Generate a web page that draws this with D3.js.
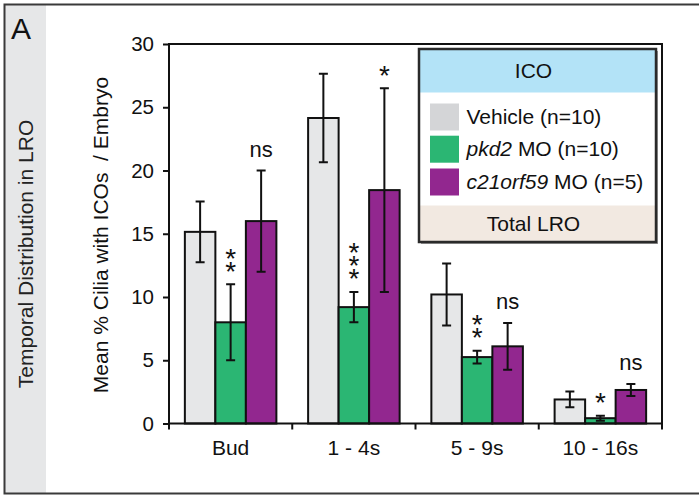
<!DOCTYPE html>
<html>
<head>
<meta charset="utf-8">
<script src="https://cdn.jsdelivr.net/npm/d3@7/dist/d3.min.js"></script>
<style>
  body { margin: 0; background: #fff; }
  text { font-family: "Liberation Sans", Arial, Helvetica, sans-serif; fill: #111; }
</style>
</head>
<body>
<div id="chart"></div>
<script>
// Data
var categories = ["Bud", "1 - 4s", "5 - 9s", "10 - 16s"];
var seriesKeys = ["vehicle", "pkd2", "c21orf59"];
var vehicleMeans = [15.15, 24.15, 10.2, 1.9];
var vehicleErrors = [2.4, 3.5, 2.45, 0.62];
var pkd2Means = [8.0, 9.2, 5.25, 0.42];
var pkd2Errors = [3.0, 1.2, 0.5, 0.2];
var c21Means = [16.0, 18.45, 6.1, 2.65];
var c21Errors = [4.0, 8.05, 1.85, 0.48];
var pkd2Sig = ["**", "***", "**", "*"];
var c21Sig = ["ns", "*", "ns", "ns"];
var yTicks = [0, 5, 10, 15, 20, 25, 30];
// legend labels: italic part + plain part
var legendItalic = ["", "pkd2", "c21orf59"];
var legendPlain = ["Vehicle (n=10)", " MO (n=10)", " MO (n=5)"];

var colors = { vehicle: "#e6e7e8", pkd2: "#2bb673", c21orf59: "#92278f" };
var swatchColors = ["#d4d5d7", "#2bb673", "#92278f"];

var svgWidth = 699;
var svgHeight = 495;

var margin = { top: 44, right: 37, bottom: 71.5, left: 169 };
var width = svgWidth - margin.left - margin.right;
var height = svgHeight - margin.top - margin.bottom;

var svg = d3.select("#chart")
  .append("svg")
  .attr("width", svgWidth)
  .attr("height", svgHeight);

// panel background / border
svg.append("rect")
  .attr("x", 5).attr("y", 4).attr("width", 41).attr("height", 489)
  .attr("fill", "#e6e7e8");
svg.append("path")
  .attr("d", "M699,4.5 H4.5 V493.5 H699")
  .attr("fill", "none").attr("stroke", "#3a3a3a").attr("stroke-width", 2);

svg.append("text")
  .attr("x", 11).attr("y", 38.5)
  .style("font-size", "30px")
  .text("A");

svg.append("text")
  .attr("transform", "translate(33, 254) rotate(-90)")
  .attr("text-anchor", "middle")
  .style("font-size", "21px")
  .style("fill", "#222")
  .text("Temporal Distribution in LRO");

var chartGroup = svg.append("g")
  .attr("transform", `translate(${margin.left}, ${margin.top})`);

// scales
var x0 = d3.scaleBand()
  .domain(categories)
  .range([0, width])
  .paddingInner(0)
  .paddingOuter(0);

var x1 = d3.scaleBand()
  .domain(seriesKeys)
  .range([0, x0.bandwidth()])
  .paddingInner(0)
  .paddingOuter(0.52);

var y = d3.scaleLinear()
  .domain([0, 30])
  .range([height, 0]);

// build rows from arrays
var means = { vehicle: vehicleMeans, pkd2: pkd2Means, c21orf59: c21Means };
var errors = { vehicle: vehicleErrors, pkd2: pkd2Errors, c21orf59: c21Errors };
var barData = [];
categories.forEach(function(cat, i) {
  seriesKeys.forEach(function(key) {
    barData.push({ cat: cat, key: key, value: means[key][i], err: errors[key][i] });
  });
});

// bars
chartGroup.selectAll(".bar")
  .data(barData)
  .enter()
  .append("rect")
  .attr("class", "bar")
  .attr("x", d => x0(d.cat) + x1(d.key))
  .attr("y", d => y(d.value))
  .attr("width", x1.bandwidth())
  .attr("height", d => height - y(d.value))
  .attr("fill", d => colors[d.key])
  .attr("stroke", "#111")
  .attr("stroke-width", 2);

// error bars
var capHalf = 4.5;
chartGroup.selectAll(".err")
  .data(barData)
  .enter()
  .append("path")
  .attr("class", "err")
  .attr("d", function(d) {
    var cx = x0(d.cat) + x1(d.key) + x1.bandwidth() / 2;
    var top = y(d.value + d.err);
    var bot = y(d.value - d.err);
    return `M${cx},${top}V${bot}M${cx - capHalf},${top}H${cx + capHalf}M${cx - capHalf},${bot}H${cx + capHalf}`;
  })
  .attr("fill", "none")
  .attr("stroke", "#111")
  .attr("stroke-width", 2);

// significance marks (stacked stars drawn as one text with tspans)
function addSig(key, marks) {
  categories.forEach(function(cat, i) {
    var cx = x0(cat) + x1(key) + x1.bandwidth() / 2;
    var top = y(means[key][i] + errors[key][i]);
    var m = marks[i];
    if (m === "ns") {
      chartGroup.append("text")
        .attr("x", cx)
        .attr("y", top - 13.5)
        .attr("text-anchor", "middle")
        .style("font-size", "22px")
        .text("ns");
    } else {
      var n = m.length;
      var t = chartGroup.append("text")
        .attr("text-anchor", "middle")
        .style("font-size", "28px");
      for (var k = 0; k < n; k++) {
        // top star first
        var cy = top - 19.5 - (n - 1 - k) * 13.3;
        t.append("tspan")
          .attr("x", cx)
          .attr("y", cy + 16)
          .text("*");
      }
    }
  });
}
addSig("pkd2", pkd2Sig);
addSig("c21orf59", c21Sig);

// frame
chartGroup.append("rect")
  .attr("x", 0).attr("y", 0)
  .attr("width", width).attr("height", height)
  .attr("fill", "none")
  .attr("stroke", "#111")
  .attr("stroke-width", 2);

// y axis
var leftAxis = d3.axisLeft(y)
  .tickValues(yTicks)
  .tickSize(6)
  .tickPadding(9);

var yAxisG = chartGroup.append("g").call(leftAxis);
yAxisG.select(".domain").remove();
yAxisG.selectAll("line").attr("stroke", "#111").attr("stroke-width", 2);
yAxisG.selectAll("text")
  .style("font-size", "20.5px")
  .style("font-family", "'Liberation Sans', Arial, sans-serif")
  .attr("fill", "#111");

// x axis: ticks at band edges, labels at centres
var edges = categories.map(c => x0(c)).concat([width]);
chartGroup.selectAll(".xtick")
  .data(edges)
  .enter()
  .append("line")
  .attr("x1", d => d).attr("x2", d => d)
  .attr("y1", height).attr("y2", height + 6)
  .attr("stroke", "#111")
  .attr("stroke-width", 2);

chartGroup.selectAll(".xlabel")
  .data(categories)
  .enter()
  .append("text")
  .attr("x", d => x0(d) + x0.bandwidth() / 2)
  .attr("y", height + 31.5)
  .attr("text-anchor", "middle")
  .style("font-size", "21px")
  .text(d => d);

// y axis label
svg.append("text")
  .attr("transform", "translate(108, 235) rotate(-90)")
  .attr("text-anchor", "middle")
  .style("font-size", "21px")
  .style("white-space", "pre")
  .text("Mean % Cilia with ICOs  / Embryo");

// legend
var legend = svg.append("g");
var lx = 419, ly = 49, lw = 237, lh = 193;

legend.append("rect")
  .attr("x", lx + 2).attr("y", ly + 2)
  .attr("width", lw).attr("height", lh)
  .attr("fill", "#9a9a9a");
legend.append("rect")
  .attr("x", lx).attr("y", ly)
  .attr("width", lw).attr("height", lh)
  .attr("fill", "#fff");
legend.append("rect")
  .attr("x", lx).attr("y", ly)
  .attr("width", lw).attr("height", 43.5)
  .attr("fill", "#b3e3f7");
legend.append("rect")
  .attr("x", lx).attr("y", 205.5)
  .attr("width", lw).attr("height", ly + lh - 205.5)
  .attr("fill", "#f2e9e1");
legend.append("rect")
  .attr("x", lx).attr("y", ly)
  .attr("width", lw).attr("height", lh)
  .attr("fill", "none")
  .attr("stroke", "#2a2a2a")
  .attr("stroke-width", 2.5);

legend.append("text")
  .attr("x", 533.5).attr("y", 78.3)
  .attr("text-anchor", "middle")
  .style("font-size", "21px")
  .text("ICO");

legend.append("text")
  .attr("x", 533.5).attr("y", 230.7)
  .attr("text-anchor", "middle")
  .style("font-size", "21px")
  .text("Total LRO");

var rowY = [117, 149.2, 182];
seriesKeys.forEach(function(key, i) {
  legend.append("rect")
    .attr("x", 430).attr("y", rowY[i] - 13.5)
    .attr("width", 29).attr("height", 27)
    .attr("fill", swatchColors[i]);
  var t = legend.append("text")
    .attr("x", 466.5).attr("y", rowY[i] + 6.5)
    .style("font-size", "21px")
    .style("white-space", "pre");
  if (legendItalic[i]) {
    t.append("tspan").style("font-style", "italic").text(legendItalic[i]);
  }
  t.append("tspan").text(legendPlain[i]);
});
</script>
</body>
</html>
